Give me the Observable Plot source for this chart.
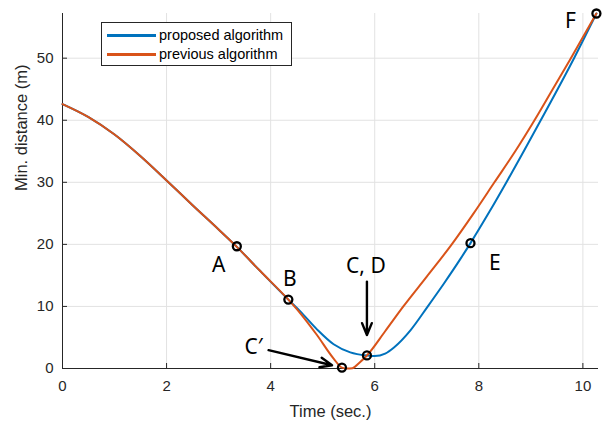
<!DOCTYPE html>
<html><head><meta charset="utf-8">
<script src="https://cdn.jsdelivr.net/npm/d3@7"></script>
<script src="https://cdn.jsdelivr.net/npm/@observablehq/plot@0.6"></script>
<style>
html,body{margin:0;padding:0;background:#fff;}
#wrap{position:relative;width:608px;height:422px;overflow:hidden;}
#wrap svg{position:absolute;left:0;top:0;}
.legend{position:absolute;left:101px;top:22px;width:191px;height:44px;border:1px solid #262626;background:#fff;box-sizing:border-box;font-family:"Liberation Sans",Arial,sans-serif;font-size:14.5px;color:#000;}
.legend .row{position:absolute;left:0;height:18px;width:100%;}
.legend .sw{position:absolute;left:5px;top:8px;width:49px;height:2.5px;}
.legend .lb{position:absolute;left:57px;top:0;line-height:18px;white-space:nowrap;}
</style>
</head><body>
<div id="wrap"></div>
<script>
// ---- data ----
const commonT = [0, 0.5, 1, 1.5, 2, 2.5, 3, 3.35, 3.8, 4.34];
const commonD = [42.6, 40.5, 37.7, 34.2, 30.3, 26.3, 22.4, 19.6, 15.7, 11.1];

const proposedT = [4.57, 4.89, 5.21, 5.53, 5.85, 6.0, 6.2, 6.37, 6.69, 7.01, 7.33, 7.65, 7.84, 8.2, 8.55, 9.19, 9.83, 10.26];
const proposedD = [9.2, 6.3, 3.9, 2.6, 2.1, 2.0, 2.4, 3.4, 6.2, 9.9, 13.7, 17.7, 20.2, 25.2, 30.3, 40.0, 50.0, 57.2];

const previousT = [4.57, 4.89, 5.21, 5.37, 5.47, 5.57, 5.7, 5.85, 6.2, 6.55, 7.0, 7.48, 7.9, 8.3, 8.7, 9.07, 9.42, 9.75, 10.26];
const previousD = [8.9, 5.4, 1.6, 0.15, 0, 0.05, 0.9, 2.1, 6.0, 10.0, 14.8, 20.0, 25.0, 30.0, 35.0, 40.0, 45.0, 49.7, 57.2];

const seriesNames = ["proposed algorithm", "previous algorithm"];
const seriesColors = ["#0072BD", "#D95319"];

const markT = [3.35, 4.34, 5.37, 5.85, 7.84, 10.26];
const markD = [19.7, 11.1, 0.15, 2.1, 20.2, 57.2];

const labelText = ["A", "B", "C\u2032", "C, D", "E", "F"];
const labelT = [3.0, 4.37, 3.67, 5.83, 8.31, 9.76];
const labelD = [16.7, 14.4, 3.4, 16.4, 17.0, 55.9];

const arrowT1 = [3.96, 5.85];
const arrowD1 = [2.95, 14.0];
const arrowT2 = [5.18, 5.85];
const arrowD2 = [0.53, 5.4];

const xTicks = [0, 2, 4, 6, 8, 10];
const yTicks = [0, 10, 20, 30, 40, 50];
const xLabel = "Time (sec.)";
const yLabel = "Min. distance (m)";

// ---- tables built from arrays ----
const proposed = commonT.map((t, i) => ({t, d: commonD[i]}))
  .concat(proposedT.map((t, i) => ({t, d: proposedD[i]})));
const previous = commonT.map((t, i) => ({t, d: commonD[i]}))
  .concat(previousT.map((t, i) => ({t, d: previousD[i]})));
const marks = markT.map((t, i) => ({t, d: markD[i]}));
const labels = labelText.map((s, i) => ({s, t: labelT[i], d: labelD[i]}));
const arrows = arrowT1.map((t, i) => ({t1: t, d1: arrowD1[i], t2: arrowT2[i], d2: arrowD2[i]}));

const axisColor = "#262626";
const font = "'Liberation Sans', Arial, sans-serif";
const chart = Plot.plot({
  width: 608, height: 422,
  marginLeft: 62, marginRight: 10, marginTop: 13, marginBottom: 54,
  style: {fontFamily: font, fontSize: "15px", color: axisColor, background: "white"},
  x: {domain: [0, 10.3]},
  y: {domain: [0, 57.2]},
  marks: [
    Plot.gridX(xTicks, {stroke: "#e2e2e2", strokeOpacity: 1}),
    Plot.gridY(yTicks, {stroke: "#e2e2e2", strokeOpacity: 1}),
    Plot.axisX(xTicks, {tickSize: -5, tickPadding: 17, fontSize: 15, stroke: axisColor, label: null}),
    Plot.axisY(yTicks, {tickSize: -5, tickPadding: 14, fontSize: 15, stroke: axisColor, label: null}),
    Plot.text([xLabel], {frameAnchor: "bottom", lineAnchor: "bottom", dy: 48, fontSize: 16.5, fill: axisColor}),
    Plot.text([yLabel], {frameAnchor: "left", lineAnchor: "middle", rotate: -90, dx: -41, fontSize: 16.5, fill: axisColor}),
    Plot.ruleX([0], {stroke: axisColor}),
    Plot.ruleY([0], {stroke: axisColor}),
    Plot.line(proposed, {x: "t", y: "d", stroke: seriesColors[0], strokeWidth: 2, curve: "monotone-x"}),
    Plot.line(previous, {x: "t", y: "d", stroke: seriesColors[1], strokeWidth: 2, curve: "monotone-x"}),
    Plot.dot(marks, {x: "t", y: "d", r: 4, stroke: "black", strokeWidth: 2.3, fill: "none"}),
    Plot.arrow(arrows, {x1: "t1", y1: "d1", x2: "t2", y2: "d2", stroke: "black", strokeWidth: 2.4, headLength: 8, headAngle: 45}),
    Plot.text(labels, {x: "t", y: "d", text: "s", fontSize: 21, fontFamily: "'Noto Sans', 'Open Sans', sans-serif", fill: "black", textAnchor: "middle", lineAnchor: "middle"})
  ]
});
const wrap = document.getElementById("wrap");
wrap.appendChild(chart);

// legend overlay inside the axes
const lg = document.createElement("div");
lg.className = "legend";
seriesNames.forEach((name, i) => {
  const row = document.createElement("div");
  row.className = "row";
  row.style.top = (3 + i * 19) + "px";
  const sw = document.createElement("div");
  sw.className = "sw";
  sw.style.background = seriesColors[i];
  const lb = document.createElement("div");
  lb.className = "lb";
  lb.textContent = name;
  row.appendChild(sw); row.appendChild(lb);
  lg.appendChild(row);
});
wrap.appendChild(lg);
</script>
</body></html>
